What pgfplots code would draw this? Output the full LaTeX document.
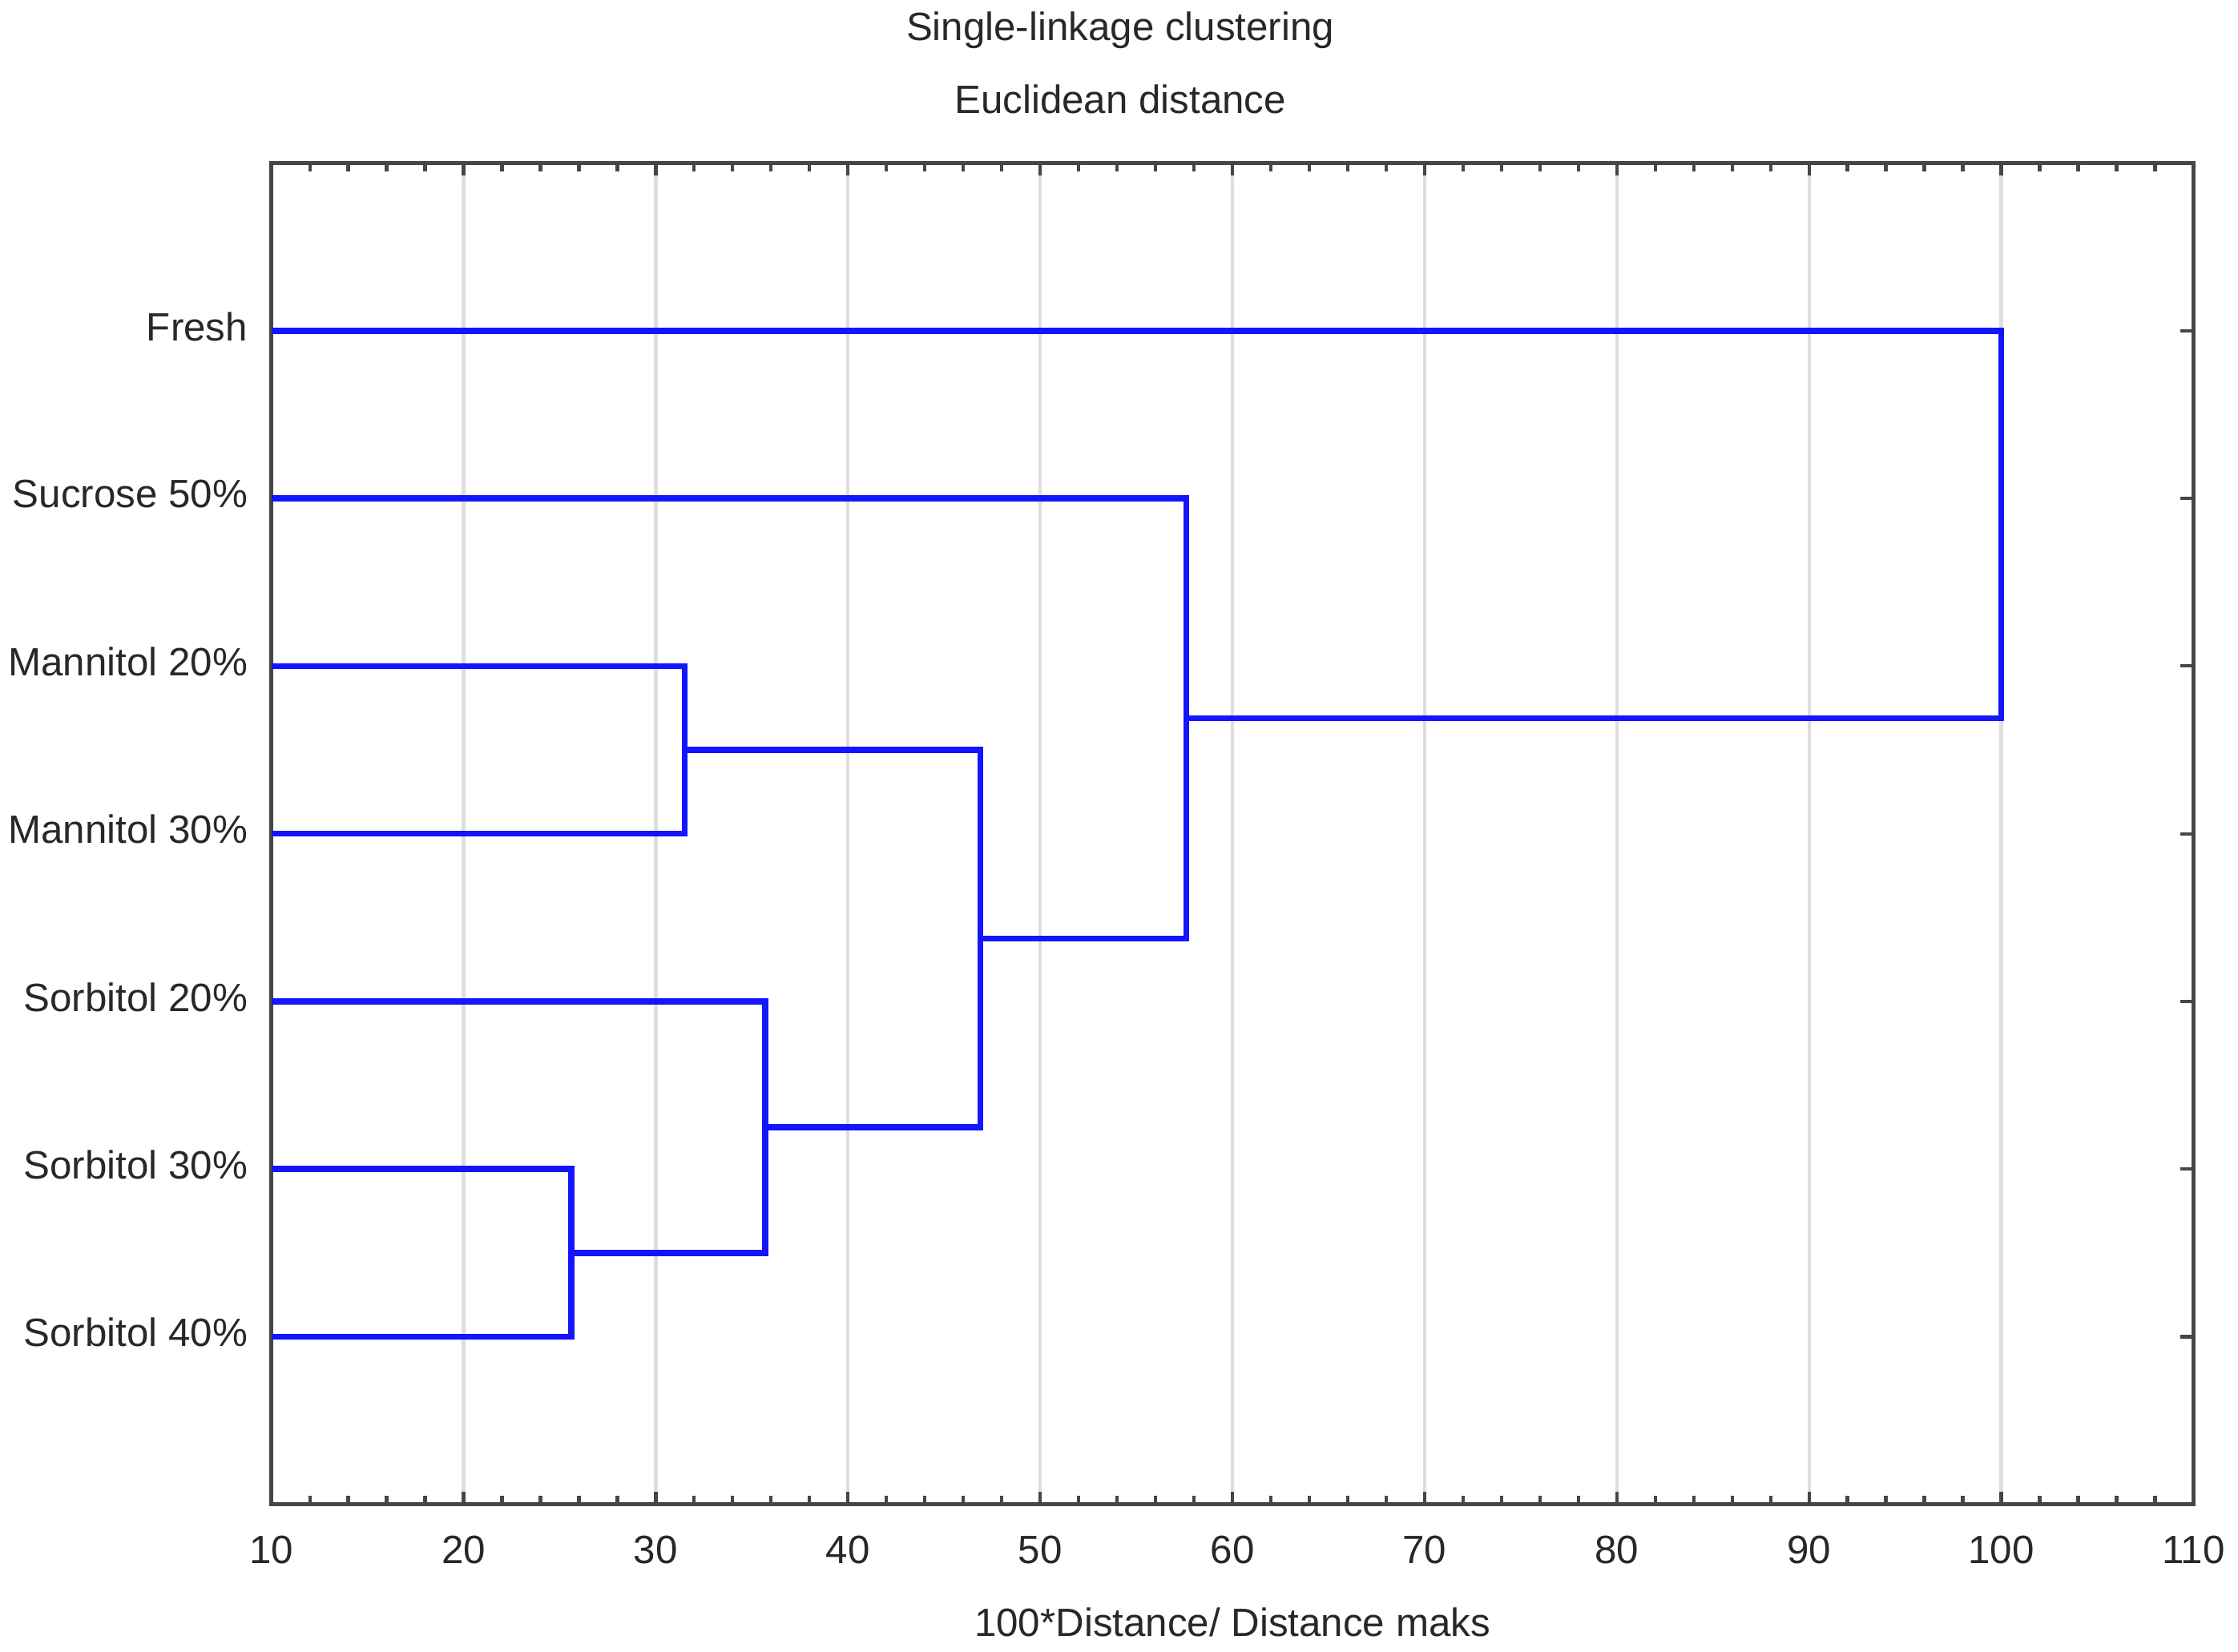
\documentclass[border=0pt]{standalone}
\usepackage{pgfplots}
\pgfplotsset{compat=1.18}
\usepackage{fontspec}
\setmainfont{Liberation Sans}
\definecolor{txt}{RGB}{40,40,40}
\definecolor{axc}{RGB}{70,70,70}
\definecolor{grd}{RGB}{222,222,222}
\definecolor{dblue}{RGB}{20,20,255}
\begin{document}
\fontsize{9.3pt}{11pt}\selectfont
\begin{tikzpicture}
\useasboundingbox (-63.9pt,-34.6pt) rectangle (463.1pt,354.3pt);
\begin{axis}[
  scale only axis,
  width=452.6pt, height=315.9pt,
  xmin=10, xmax=110, ymin=0, ymax=8,
  xtick={10,20,...,110},
  minor x tick num=4,
  ytick={1,2,3,4,5,6,7},
  yticklabels={Sorbitol 40\%,Sorbitol 30\%,Sorbitol 20\%,Mannitol 30\%,Mannitol 20\%,Sucrose 50\%,Fresh},
  tick align=inside,
  major tick length=3pt,
  minor tick length=2pt,
  xmajorgrids,
  grid style={grd, line width=0.8pt},
  axis line style={axc, line width=1pt},
  every tick/.style={axc, line width=0.8pt},
  /pgf/number format/assume math mode=true,
  tick label style={font=\fontsize{9.3pt}{11pt}\selectfont, text=txt},
  xticklabel style={anchor=center, yshift=-10.8pt},
  yticklabel style={anchor=east, inner sep=0pt, xshift=-5.4pt, yshift=1pt},
  every axis x label/.style={at={(axis description cs:0.5,0)}, yshift=-27.7pt, anchor=center, text=txt, font=\fontsize{9.3pt}{11pt}\selectfont},
  xlabel={100*Distance/ Distance maks},
  clip=false,
]
\addplot[dblue, line width=1.4pt] coordinates {(10,2) (25.6,2) (25.6,1) (10,1)};
\addplot[dblue, line width=1.4pt] coordinates {(10,3) (35.7,3) (35.7,1.5) (25.6,1.5)};
\addplot[dblue, line width=1.4pt] coordinates {(10,5) (31.5,5) (31.5,4) (10,4)};
\addplot[dblue, line width=1.4pt] coordinates {(31.5,4.5) (46.9,4.5) (46.9,2.25) (35.7,2.25)};
\addplot[dblue, line width=1.4pt] coordinates {(10,6) (57.6,6) (57.6,3.375) (46.9,3.375)};
\addplot[dblue, line width=1.4pt] coordinates {(10,7) (100,7) (100,4.6875) (57.6,4.6875)};
\node[text=txt, font=\fontsize{9.3pt}{11pt}\selectfont, anchor=center] at (axis description cs:0.4417,1) [yshift=31.2pt] {Single-linkage clustering};
\node[text=txt, font=\fontsize{9.3pt}{11pt}\selectfont, anchor=center] at (axis description cs:0.4417,1) [yshift=15pt] {Euclidean distance};
\end{axis}
\end{tikzpicture}
\end{document}
